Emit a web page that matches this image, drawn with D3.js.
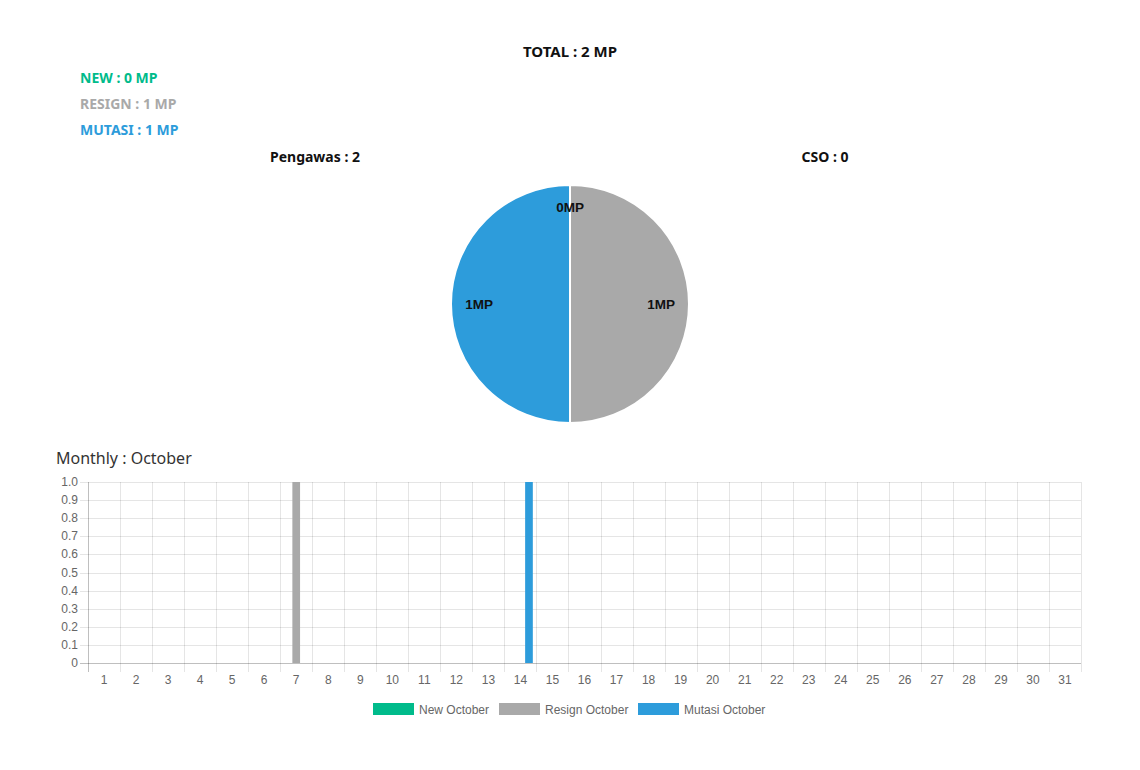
<!DOCTYPE html>
<html>
<head>
<meta charset="utf-8">
<script src="https://cdn.jsdelivr.net/npm/d3@7"></script>
<style>
  body { margin: 0; background: #fff; }
  .head { font-family: "Noto Sans", "Open Sans", sans-serif; font-weight: bold; }
  .tick-lbl { font-family: "Liberation Sans", Arial, sans-serif; font-size: 12px; fill: #666; }
</style>
</head>
<body>
<div id="chart"></div>
<script>
// summary numbers
var summaryLabels = ["NEW", "RESIGN", "MUTASI"];
var summaryValues = [0, 1, 1];
var summaryColors = ["#00bb8b", "#a9a9a9", "#2d9cdb"];
var totalMP = 2;
var pengawas = 2, cso = 0;

// pie
var pieValues = [0, 1, 1];

// monthly bars
var days = ["1","2","3","4","5","6","7","8","9","10","11","12","13","14","15","16",
            "17","18","19","20","21","22","23","24","25","26","27","28","29","30","31"];
var newOct    = [0,0,0,0,0,0,0,0,0,0,0,0,0,0,0,0,0,0,0,0,0,0,0,0,0,0,0,0,0,0,0];
var resignOct = [0,0,0,0,0,0,1,0,0,0,0,0,0,0,0,0,0,0,0,0,0,0,0,0,0,0,0,0,0,0,0];
var mutasiOct = [0,0,0,0,0,0,0,0,0,0,0,0,0,1,0,0,0,0,0,0,0,0,0,0,0,0,0,0,0,0,0];
var seriesNames = ["New October", "Resign October", "Mutasi October"];
var yTicks = [0, 0.1, 0.2, 0.3, 0.4, 0.5, 0.6, 0.7, 0.8, 0.9, 1.0];

var W = 1140, H = 770;
var svg = d3.select("#chart").append("svg").attr("width", W).attr("height", H);

// header texts
svg.append("text").attr("class", "head")
  .attr("x", 570).attr("y", 57).attr("text-anchor", "middle")
  .style("font-size", "15px").style("fill", "#111")
  .text("TOTAL : " + totalMP + " MP");

svg.selectAll(".sum").data(summaryLabels).enter()
  .append("text").attr("class", "head sum")
  .attr("x", 80).attr("y", function(d, i) { return 83 + i * 26; })
  .style("font-size", "14px")
  .style("fill", function(d, i) { return summaryColors[i]; })
  .text(function(d, i) { return d + " : " + summaryValues[i] + " MP"; });

svg.append("text").attr("class", "head")
  .attr("x", 315).attr("y", 162).attr("text-anchor", "middle")
  .style("font-size", "14px").style("fill", "#111")
  .text("Pengawas : " + pengawas);

svg.append("text").attr("class", "head")
  .attr("x", 825).attr("y", 162).attr("text-anchor", "middle")
  .style("font-size", "14px").style("fill", "#111")
  .text("CSO : " + cso);

// pie
var pieCx = 570, pieCy = 304, pieR = 119;
var pie = d3.pie().sort(null)(pieValues);
var arc = d3.arc().innerRadius(0).outerRadius(pieR);
var gPie = svg.append("g").attr("transform", "translate(" + pieCx + "," + pieCy + ")");
gPie.selectAll("path").data(pie).enter().append("path")
  .attr("d", arc)
  .style("fill", function(d, i) { return summaryColors[i]; })
  .style("stroke", "#fff").style("stroke-width", 2);

var labelArc = d3.arc().innerRadius(91).outerRadius(91);
gPie.selectAll(".plbl").data(pie).enter().append("text")
  .attr("class", "plbl")
  .attr("transform", function(d) {
    var c = labelArc.centroid(d);
    if (d.value == 0) c = [0, -97];
    return "translate(" + c[0] + "," + (c[1] + 5) + ")";
  })
  .attr("text-anchor", "middle")
  .style("font-family", "Liberation Sans, Arial, sans-serif")
  .style("font-weight", "bold").style("font-size", "13.5px").style("fill", "#111")
  .text(function(d) { return d.value + "MP"; });

// monthly bar chart
svg.append("text")
  .attr("x", 56).attr("y", 464)
  .style("font-family", "Noto Sans, Open Sans, sans-serif")
  .style("font-size", "16px").style("fill", "#333")
  .text("Monthly : October");

var bLeft = 88, bRight = 1081, bTop = 482, bBottom = 663;
var x = d3.scaleBand().domain(days).range([bLeft, bRight]).padding(0);
var y = d3.scaleLinear().domain([0, 1]).range([bBottom, bTop]);
var inner = d3.scaleBand().domain([0, 1, 2])
  .range([x.bandwidth() * 0.1, x.bandwidth() * 0.9]).padding(0);

// horizontal grid
svg.selectAll(".hg").data(yTicks).enter().append("line")
  .attr("x1", bLeft - 8).attr("x2", bRight)
  .attr("y1", function(d) { return Math.round(y(d)) + 0.5; })
  .attr("y2", function(d) { return Math.round(y(d)) + 0.5; })
  .style("stroke", function(d) { return d == 0 ? "rgba(0,0,0,0.25)" : "rgba(0,0,0,0.1)"; });

// vertical grid at category edges
var edges = days.map(function(d) { return x(d); }).concat([bRight]);
svg.selectAll(".vg").data(edges).enter().append("line")
  .attr("x1", function(d) { return Math.round(d) + 0.5; })
  .attr("x2", function(d) { return Math.round(d) + 0.5; })
  .attr("y1", bTop).attr("y2", bBottom + 9)
  .style("stroke", function(d, i) { return i == 0 ? "rgba(0,0,0,0.25)" : "rgba(0,0,0,0.1)"; });

// y labels
svg.selectAll(".yl").data(yTicks).enter().append("text")
  .attr("class", "tick-lbl")
  .attr("x", bLeft - 10).attr("y", function(d) { return y(d) + 4; })
  .attr("text-anchor", "end")
  .text(function(d) { return d == 0 ? "0" : d.toFixed(1); });

// x labels
svg.selectAll(".xl").data(days).enter().append("text")
  .attr("class", "tick-lbl")
  .attr("x", function(d) { return x(d) + x.bandwidth() / 2; })
  .attr("y", 684).attr("text-anchor", "middle")
  .text(function(d) { return d; });

// bars
var series = [newOct, resignOct, mutasiOct];
series.forEach(function(vals, s) {
  svg.append("g").selectAll("rect").data(vals).enter().append("rect")
    .attr("x", function(d, i) { return x(days[i]) + inner(s) + inner.bandwidth() * 0.05; })
    .attr("width", inner.bandwidth() * 0.9)
    .attr("y", function(d) { return y(d); })
    .attr("height", function(d) { return bBottom - y(d); })
    .style("fill", summaryColors[s]);
});

// legend
var legX = [373, 499, 638];
var leg = svg.selectAll(".leg").data(seriesNames).enter().append("g")
  .attr("transform", function(d, i) { return "translate(" + legX[i] + ",703)"; });
leg.append("rect").attr("width", 41).attr("height", 12)
  .style("fill", function(d, i) { return summaryColors[i]; });
leg.append("text").attr("class", "tick-lbl")
  .attr("x", 46).attr("y", 10.5)
  .text(function(d) { return d; });
</script>
</body>
</html>
